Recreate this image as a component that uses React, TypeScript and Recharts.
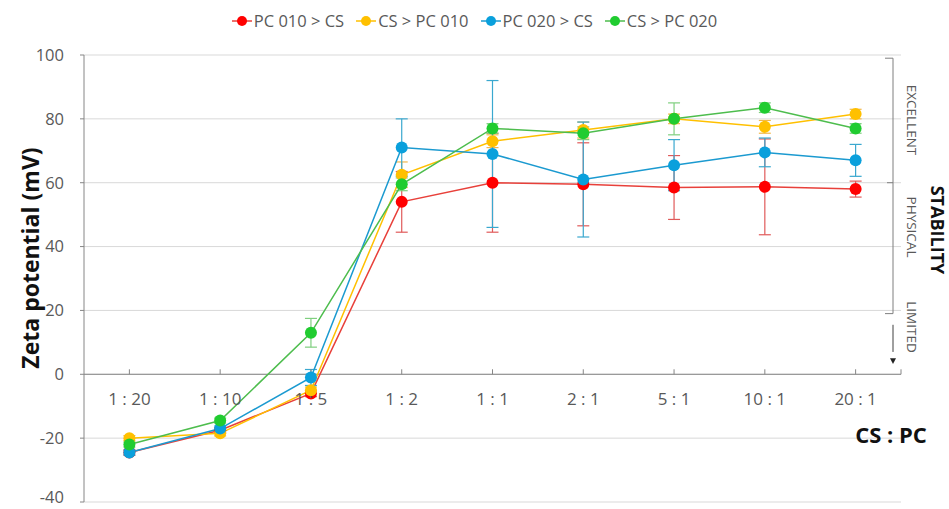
import { LineChart, Line, XAxis, YAxis, CartesianGrid, ErrorBar, ReferenceLine, ReferenceDot } from 'recharts';

const categories = ['1 : 20', '1 : 10', '1 : 5', '1 : 2', '1 : 1', '2 : 1', '5 : 1', '10 : 1', '20 : 1'];

const pc010cs = [-24.5, -17.5, -6, 54, 60, 59.5, 58.5, 58.7, 58];
const pc010csErr = [0.8, 0.8, 1, 9.5, 15.5, 13, 10, 15, 2.5];

const cspc010 = [-20, -18.5, -5, 62.5, 73, 76.5, 80, 77.5, 81.5];
const cspc010Err = [0.8, 0.8, 1, 4, 2, 2.5, 1.5, 2, 1.5];

const pc020cs = [-24.5, -17, -1, 71, 69, 61, 65.5, 69.5, 67];
const pc020csErr = [0.8, 0.8, 2.5, 9, 23, 18, 8, 4.5, 5];

const cspc020 = [-22, -14.5, 13, 59.5, 77, 75.5, 80, 83.5, 77];
const cspc020Err = [0.8, 0.8, 4.5, 2, 1.5, 2, 5, 1.5, 1.5];

const yTicks = [-40, -20, 0, 20, 40, 60, 80, 100];

const series = [
  { key: 'a', name: 'PC 010 > CS', dot: '#ff0000', line: '#e8403a', err: '#e05a5a' },
  { key: 'b', name: 'CS > PC 010', dot: '#ffc000', line: '#ffc000', err: '#f2b84a' },
  { key: 'c', name: 'PC 020 > CS', dot: '#0aa0dc', line: '#1b9ad0', err: '#3aa8cf' },
  { key: 'd', name: 'CS > PC 020', dot: '#20cc30', line: '#4dbd4d', err: '#7fcf7f' },
];

const data = categories.map((cat, i) => ({
  cat,
  a: pc010cs[i], aErr: pc010csErr[i],
  b: cspc010[i], bErr: cspc010Err[i],
  c: pc020cs[i], cErr: pc020csErr[i],
  d: cspc020[i], dErr: cspc020Err[i],
}));

const W = 949;
const H = 509;
const M = { top: 55, right: 48, bottom: 7, left: 24 };
const PLOT_TOP = M.top;
const PLOT_H = H - M.top - M.bottom;
const PLOT_RIGHT = W - M.right;
const yPix = (v: number) => PLOT_TOP + ((100 - v) / 140) * PLOT_H;

const font = '"Open Sans", "Noto Sans", sans-serif';
const axisGray = '#868686';
const textGray = '#595959';

const TickMark = (props: any) => {
  const { cx, cy } = props;
  if (cx == null || cy == null) return null;
  return <line x1={cx} x2={cx} y1={cy} y2={cy - 5} stroke={axisGray} strokeWidth={1} />;
};

// keep the lowest label inside the picture
const YTick = (props: any) => {
  const { x, y, payload } = props;
  const lift = payload.value === -40 ? -5 : 0;
  return (
    <text x={x} y={y + lift} dy="0.355em" textAnchor="end" fontSize={16.5} fill={textGray} fontFamily={font}>
      {payload.value}
    </text>
  );
};

const LegendRow = () => (
  <div style={{ position: 'absolute', top: 9, left: 0, width: W, display: 'flex', justifyContent: 'center', gap: 12, fontFamily: font, fontSize: 16.5, color: textGray }}>
    {series.map((s) => (
      <div key={s.key} style={{ display: 'flex', alignItems: 'center' }}>
        <svg width={20} height={12} style={{ marginRight: 2 }}>
          <line x1={0} x2={20} y1={6} y2={6} stroke={s.line} strokeWidth={1.5} />
          <circle cx={10} cy={6} r={5} fill={s.dot} />
        </svg>
        <span>{s.name}</span>
      </div>
    ))}
  </div>
);

const rotated = (text: string, cx: number, cy: number, angle: number, style: any) => (
  <div style={{ position: 'absolute', left: cx, top: cy, transform: `translate(-50%, -50%) rotate(${angle}deg)`, whiteSpace: 'nowrap', fontFamily: font, lineHeight: 1, ...style }}>
    {text}
  </div>
);

export default function App() {
  const bx = 893;
  return (
    <div style={{ position: 'relative', width: W, height: H, background: '#fff' }}>
      <style>{'body{margin:0}'}</style>
      <LineChart width={W} height={H} data={data} margin={M}>
        <CartesianGrid vertical={false} stroke="#d9d9d9" />
        <XAxis dataKey="cat" scale="band" hide />
        <YAxis
          width={60}
          domain={[-40, 100]}
          ticks={yTicks}
          interval={0}
          axisLine={{ stroke: axisGray }}
          tickLine={{ stroke: axisGray }}
          tickSize={4}
          tickMargin={16}
          tick={YTick}
        />
        <ReferenceLine y={0} stroke={axisGray} strokeWidth={1} />
        {categories.map((c) => (
          <ReferenceDot
            key={c}
            x={c}
            y={0}
            r={0}
            ifOverflow="visible"
            shape={TickMark}
            label={{ value: c, position: 'bottom', offset: 19, fontSize: 17, fill: textGray, fontFamily: font }}
          />
        ))}
        {series.map((s) => (
          <Line
            key={s.key}
            dataKey={s.key}
            name={s.name}
            type="linear"
            stroke={s.line}
            strokeWidth={1.5}
            dot={{ r: 6, fill: s.dot, stroke: s.dot, strokeWidth: 0 }}
            activeDot={false}
            isAnimationActive={false}
          >
            <ErrorBar dataKey={`${s.key}Err`} direction="y" width={6} stroke={s.err} strokeWidth={1.2} />
          </Line>
        ))}
      </LineChart>

      <svg width={W} height={H} style={{ position: 'absolute', left: 0, top: 0, pointerEvents: 'none' }}>
        <path d={`M${bx - 8},${yPix(99)} H${bx} V${yPix(19)} H${bx - 8}`} fill="none" stroke="#7f7f7f" strokeWidth={1} />
        <line x1={bx - 6} x2={bx} y1={yPix(60)} y2={yPix(60)} stroke="#7f7f7f" strokeWidth={1} />
        <line x1={bx} x2={bx} y1={yPix(15.5)} y2={yPix(7)} stroke="#404040" strokeWidth={1} />
        <path d={`M${bx - 3},${yPix(5)} L${bx + 3},${yPix(5)} L${bx},${yPix(3.2)} Z`} fill="#222" />
        <line x1={PLOT_RIGHT} x2={PLOT_RIGHT} y1={yPix(0)} y2={yPix(0) - 5} stroke={axisGray} strokeWidth={1} />
      </svg>

      <LegendRow />
      {rotated('Zeta potential (mV)', 30, 258, -90, { fontSize: 23, fontWeight: 700, color: '#111' })}
      {rotated('STABILITY', 938, 230, 90, { fontSize: 18, fontWeight: 700, color: '#111' })}
      {rotated('EXCELLENT', 911, 120, 90, { fontSize: 13.5, color: textGray })}
      {rotated('PHYSICAL', 911, 227, 90, { fontSize: 13.5, color: textGray })}
      {rotated('LIMITED', 911, 327, 90, { fontSize: 13.5, color: textGray })}
      <div style={{ position: 'absolute', left: 891, top: 434, transform: 'translate(-50%, -50%)', fontFamily: font, fontWeight: 700, fontSize: 22, color: '#111', whiteSpace: 'nowrap', lineHeight: 1 }}>
        CS : PC
      </div>
    </div>
  );
}
